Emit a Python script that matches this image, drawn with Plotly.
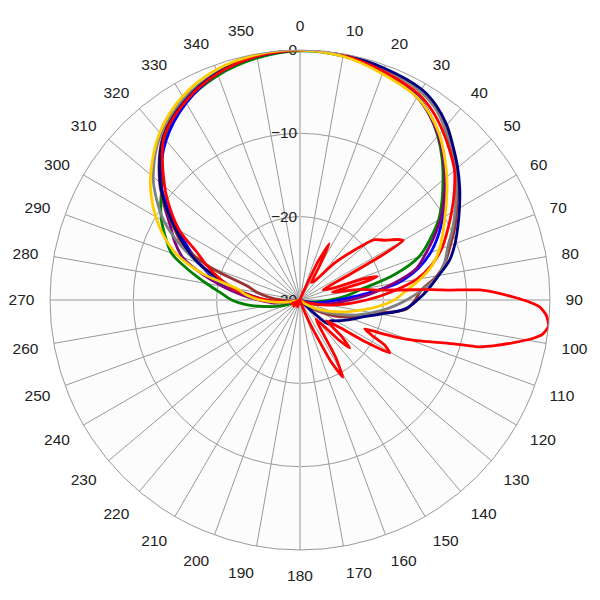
import plotly.graph_objects as go

# azimuth pattern data (dB)
theta_main = [0, 10, 20, 30, 35, 40, 45, 50, 55, 60, 65, 70, 75, 80, 85, 90, 95, 100,
              105, 110, 115, 120, 125, 130, 140, 160, 200, 240, 250, 255, 260, 265,
              270, 275, 280, 285, 290, 295, 300, 305, 310, 320, 330, 340, 350, 360]

navy_db = [0, -0.1, -0.4, -0.8, -1.5, -2.6, -4.0, -5.3, -6.6, -7.9, -9.1, -10.2, -11.4,
           -13.1, -14.5, -15.9, -17.4, -20.2, -22.2, -23.3, -24.2, -25.0, -25.6, -25.5,
           -30, -30, -30, -30, -29.5, -29, -28.3, -27.3, -25.8, -24.2, -22.0, -19.8,
           -17.0, -14.8, -12.7, -10.3, -8.1, -4.5, -2.4, -1.0, -0.3, 0]
gray_db = [0, -0.2, -0.5, -1.1, -1.8, -3.0, -4.4, -5.7, -7.1, -8.5, -9.8, -11.1, -12.0,
           -13.1, -15.2, -17.2, -19.2, -21.2, -23.0, -25.0, -26.5, -28.0, -29.0, -29.5,
           -30, -30, -30, -30, -30, -29.8, -29.0, -27.5, -25.5, -23.8, -21.8, -19.5,
           -17.0, -14.0, -11.2, -9.0, -7.0, -4.0, -2.1, -0.9, -0.2, 0]
brown_db = [0, -0.2, -0.5, -1.0, -1.7, -2.9, -4.3, -5.6, -6.9, -8.3, -9.5, -10.8, -11.9,
            -13.3, -15.3, -16.2, -17.2, -20.8, -22.6, -24.0, -25.5, -27.0, -28.5, -29.5,
            -30, -30, -30, -30, -30, -30, -29.5, -28.8, -27.8, -26.3, -24.8, -23.4,
            -18.6, -14.6, -12.5, -10.2, -8.0, -4.4, -2.3, -1.0, -0.3, 0]
red_db = [0, -0.2, -0.8, -1.5, -2.3, -3.4, -4.6, -5.8, -7.4, -9.0, -10.5, -11.9, -13.6,
          -15.8, -19.0, -22.0, -24.5, -26.5, -28.0, -29.0, -29.5, -30, -30, -30,
          -30, -30, -30, -30, -30, -29.5, -28.8, -27.8, -26.0, -24.0, -21.7, -20.0,
          -18.2, -16.3, -13.3, -11.0, -8.8, -4.6, -2.5, -1.1, -0.3, 0]
yellow_db = [0, -0.3, -1.1, -1.9, -2.8, -4.0, -5.5, -7.0, -8.5, -9.9, -11.1, -12.2, -13.5,
             -15.3, -17.2, -18.7, -20.7, -22.8, -24.5, -26.0, -27.2, -28.2, -29.0, -29.5,
             -30, -30, -30, -30, -30, -29.5, -28.5, -27.0, -25.2, -23.6, -22.4, -18.0,
             -14.4, -12.0, -10.0, -8.2, -6.6, -3.8, -1.8, -0.6, -0.1, 0]
blue_db = [0, -0.2, -0.9, -1.8, -2.8, -4.1, -5.6, -7.1, -8.6, -10.2, -11.7, -13.3, -15.3,
           -18.0, -22.5, -25.5, -27.0, -28.0, -29.0, -29.5, -30, -30, -30, -30,
           -30, -30, -30, -30, -30, -29.5, -28.5, -27.0, -25.5, -23.5, -20.8, -19.0,
           -17.2, -15.2, -13.2, -10.6, -8.2, -5.0, -2.7, -1.1, -0.3, 0]
purple_db = [0, -0.2, -0.9, -1.9, -2.9, -4.2, -5.7, -7.3, -8.9, -10.5, -12.3, -14.0,
             -15.6, -18.6, -21.5, -24.0, -25.8, -27.2, -28.2, -29.0, -29.5, -30, -30, -30,
             -30, -30, -30, -30, -29.5, -29.0, -28.0, -26.5, -25.0, -23.0, -20.6, -17.8,
             -15.0, -13.4, -12.0, -10.1, -8.2, -4.5, -2.4, -1.0, -0.3, 0]
green_db = [-0.1, -0.3, -0.9, -1.9, -2.9, -4.3, -5.9, -7.6, -9.2, -10.8, -12.8, -14.8,
            -18.3, -22.5, -24.5, -26.5, -27.8, -28.7, -29.3, -29.7, -30, -30, -30, -30,
            -30, -30, -30, -30, -28.5, -27.0, -25.5, -23.5, -21.8, -20.5, -18.6, -16.2,
            -13.6, -12.2, -10.8, -9.6, -8.4, -4.7, -2.6, -1.3, -0.5, -0.1]

# narrow beam with side lobes
theta_lobes = [0, 15, 20, 25, 27.5, 30, 33, 38, 43, 47, 51, 55, 58, 60, 61.5, 63, 66,
               70, 71.5, 73, 74.5, 76.5, 80, 83, 84.3, 85.5, 86.2, 86.8, 88, 89.2, 90.5,
               91.7, 93.5, 96, 98, 99.5, 101.4, 103, 104.6, 106.3, 108, 109.5, 111,
               112.4, 114, 116, 118, 120.5, 122.5, 124.5, 128, 131, 134, 136, 140, 144,
               148, 151, 153.5, 157, 162, 180, 200, 215, 225, 235, 245, 255, 270, 300, 360]
lobes_db = [-30, -30, -29.5, -25, -22.4, -25.5, -27.5, -27, -24, -21.5, -18.5, -17.5,
            -16.3, -15.7, -19, -24, -27, -26, -22, -20.3, -22, -26, -22.7, -20.3, -17.9,
            -14, -12, -8.4, -6.2, -4.4, -2.5, -1.2, -0.4, 0, -0.6, -1.8, -4.0, -5.8,
            -7.7, -11.6, -13.8, -15.6, -17.5, -19.6, -21.5, -20.5, -18.5, -17.5, -20.5,
            -24, -26, -23.5, -21.7, -23.5, -27, -26, -22, -19.4, -22, -27, -29.5, -30,
            -29, -30, -28.8, -30, -28.8, -30, -30, -30, -30]

angle_ticks = list(range(0, 360, 10))
angle_labels = [str(a) for a in angle_ticks]

series = [
    ("green", green_db, "#008000"),
    ("blue", blue_db, "#0000ff"),
    ("purple", purple_db, "#800080"),
    ("brown", brown_db, "#993333"),
    ("gray", gray_db, "#808080"),
    ("navy", navy_db, "#000080"),
    ("red", red_db, "#ff0000"),
    ("yellow", yellow_db, "#ffcc00"),
]

fig = go.Figure()

# thick light axis cross through the centre
for a, b in [(0, 180), (90, 270)]:
    fig.add_trace(go.Scatterpolar(r=[0, -30, 0], theta=[a, a, b], mode="lines",
                                  line=dict(color="#c8c8c8", width=2),
                                  hoverinfo="skip", showlegend=False))

for name, vals, col in series:
    fig.add_trace(go.Scatterpolar(r=vals, theta=theta_main, mode="lines", name=name,
                                  line=dict(color=col, width=2.8, shape="spline",
                                            smoothing=1.0),
                                  showlegend=False))

fig.add_trace(go.Scatterpolar(r=lobes_db, theta=theta_lobes, mode="lines", name="beam",
                              line=dict(color="#ff0000", width=2.8, shape="spline",
                                        smoothing=0.5),
                              showlegend=False))

# page body adds an 8px offset, so shift the polar domain back by that much
fig.update_layout(
    width=600, height=600,
    margin=dict(l=42, r=58, t=42, b=58, autoexpand=False),
    paper_bgcolor="white",
    font=dict(family="Liberation Sans, Arial", size=15, color="#222222"),
    polar=dict(
        domain=dict(x=[0, 1], y=[0, 1]),
        bgcolor="#fcfcfc",
        angularaxis=dict(rotation=90, direction="clockwise",
                         tickmode="array", tickvals=angle_ticks, ticktext=angle_labels,
                         tickfont=dict(size=15.5, color="#222222"),
                         showline=True, linecolor="#999999", linewidth=1,
                         gridcolor="#999999", gridwidth=1,
                         ticks="outside", ticklen=12, tickcolor="rgba(0,0,0,0)"),
        radialaxis=dict(range=[-30, 0], tickvals=[-30, -20, -10, 0],
                        angle=90, side="counterclockwise", tickangle=90,
                        showline=False, gridcolor="#999999", gridwidth=1,
                        ticks="", layer="below traces",
                        tickfont=dict(size=15.5, color="#222222")),
    ),
)

fig.write_html("out.html")
